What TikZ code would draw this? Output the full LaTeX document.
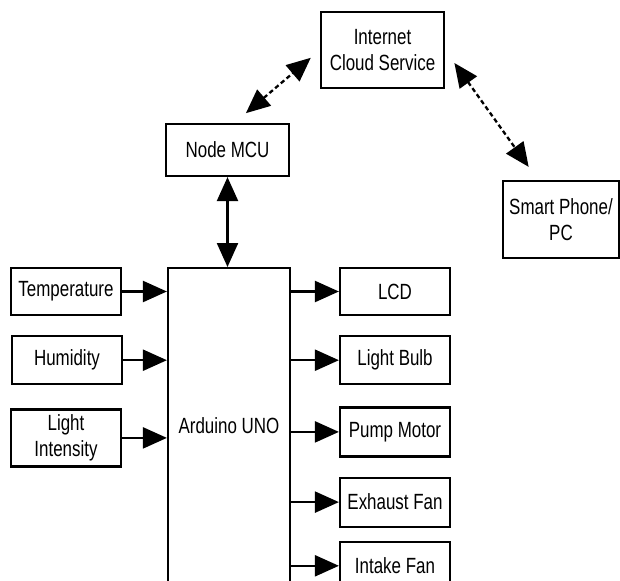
\documentclass[tikz,border=0pt]{standalone}
\usepackage{fontspec}
\setmainfont[FakeStretch=0.77]{Liberation Sans}
\usetikzlibrary{arrows.meta,positioning}

\begin{document}
\begin{tikzpicture}[x=1pt,y=-1pt,>={Triangle[length=24pt,width=21pt]},
        block/.style={draw,line width=2.2pt,align=center,inner sep=0pt,
          minimum width=110pt,minimum height=48pt,
          font=\fontsize{22}{26}\selectfont},
        link/.style={line width=2.3pt},
        dlink/.style={link,<->,dash pattern=on 4.5pt off 3pt}]

  \useasboundingbox (0,0) rectangle (620,580);
  \clip (0,0) rectangle (620,580);

  % network side
  \node[block,minimum width=123pt,minimum height=76pt] (cloud) at (382.5,50) {Internet\\Cloud Service};
  \node[block,minimum width=123pt,minimum height=52pt] (mcu) at (227.5,150) {Node MCU};
  \node[block,minimum width=116pt,minimum height=77pt] (phone) at (561,219.5) {Smart Phone/\\PC};
  \node[block,minimum width=122pt,minimum height=316pt,anchor=north] (uno) at (229,267) {Arduino UNO};

  % sensors
  \node[block,minimum height=47pt] (temp) at (66,291.5) {Temperature};
  \node[block] (humid) [below=19pt of temp.south,anchor=north,xshift=1pt] {Humidity};
  \node[block,minimum height=57pt] (light) [below=23pt of humid.south,anchor=north,xshift=-1pt] {Light\\Intensity};

  % outputs
  \node[block,minimum height=47pt] (lcd) at (395,291.5) {LCD};
  \node[block] (bulb) [below=19pt of lcd.south,anchor=north] {Light Bulb};
  \node[block,minimum height=49pt] (pump) [below=21pt of bulb.south,anchor=north] {Pump Motor};
  \node[block,minimum height=49pt] (exhaust) [below=19pt of pump.south,anchor=north] {Exhaust Fan};
  \node[block] (intake) [below=13pt of exhaust.south,anchor=north] {Intake Fan};

  \draw[dlink,shorten <=15pt,shorten >=12pt] ([xshift=7pt]mcu.north) -- (cloud.west);
  \draw[dlink,shorten <=16pt,shorten >=16pt] (cloud.east) -- ([xshift=-23pt]phone.north);
  \draw[link,<->] (mcu) -- (mcu |- uno.north);

  \foreach \s in {temp,humid,light}
    \draw[link,->] (\s.east) -- (\s.east -| uno.west);
  \foreach \o in {lcd,bulb,pump,exhaust,intake}
    \draw[link,->] (uno.east |- \o.west) -- (\o.west);

\end{tikzpicture}
\end{document}
